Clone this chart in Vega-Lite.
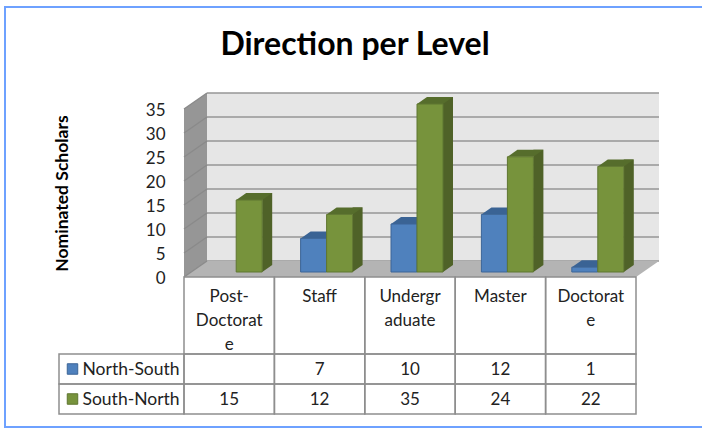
{
"$schema":"https://vega.github.io/schema/vega-lite/v6.json",
"width":700,"height":420,
"autosize":{"type":"none"},
"padding":{"left":5,"top":7,"right":0,"bottom":2},
"background":"white",
"config":{"view":{"stroke":"#6ea1ff","strokeWidth":2},"font":"Lato"},
"title":{"text":"Direction per Level","font":"Lato","fontSize":32,"fontWeight":"bold","color":"#000000","anchor":"middle","offset":-55},
"datasets":{
"scholars":[
{"level":"Post-Doctorate","series":"North-South","value":null},
{"level":"Staff","series":"North-South","value":7},
{"level":"Undergraduate","series":"North-South","value":10},
{"level":"Master","series":"North-South","value":12},
{"level":"Doctorate","series":"North-South","value":1},
{"level":"Post-Doctorate","series":"South-North","value":15},
{"level":"Staff","series":"South-North","value":12},
{"level":"Undergraduate","series":"South-North","value":35},
{"level":"Master","series":"South-North","value":24},
{"level":"Doctorate","series":"South-North","value":22}],
"levels":[
{"level":"Post-Doctorate","label":"Post-\nDoctorat\ne","row":"head"},
{"level":"Staff","label":"Staff","row":"head"},
{"level":"Undergraduate","label":"Undergr\naduate","row":"head"},
{"level":"Master","label":"Master","row":"head"},
{"level":"Doctorate","label":"Doctorat\ne","row":"head"}],
"ticks":[{"tick":0},{"tick":5},{"tick":10},{"tick":15},{"tick":20},{"tick":25},{"tick":30},{"tick":35}],
"series":[{"series":"North-South","col":"key"},{"series":"South-North","col":"key"}]
},
"layer":[
{"data":{"name":"ticks"},
"encoding":{"y":{"field":"tick","type":"quantitative","scale":{"domain":[0,35],"range":[270,102],"nice":false},
"axis":{"offset":-174,"values":[0,5,10,15,20,25,30,35],"domain":false,"ticks":false,"grid":false,"labelPadding":14,"labelOffset":1,"labelFont":"Lato","labelFontSize":17,"labelColor":"#222222","title":"Nominated Scholars","titleFont":"Lato","titleFontSize":17.5,"titleFontWeight":"bold","titleColor":"#000000","titlePadding":74}}},
"layer":[
{"transform":[{"filter":"datum.tick==0"}],"mark":{"type":"rect","fill":"#e6e6e6","xOffset":23,"x2Offset":23,"yOffset":-16,"y2Offset":-16},
 "encoding":{"x":{"datum":0,"type":"quantitative","scale":{"domain":[0,1],"range":[179,631]},"axis":null},"x2":{"datum":1},"y":{"datum":35,"type":"quantitative"},"y2":{"datum":0}}},
{"mark":{"type":"rule","stroke":"#969696","strokeWidth":1.5,"xOffset":23,"x2Offset":23,"yOffset":-16,"y2Offset":-16},
 "encoding":{"x":{"datum":0,"type":"quantitative"},"x2":{"datum":1}}},
{"transform":[{"filter":"datum.tick==0"}],"mark":{"type":"point","shape":"M0 0L.23 -.16L.23 -1.84L0 -1.68Z","size":40000,"filled":true,"fill":"#969696","opacity":1,"stroke":null},
 "encoding":{"x":{"datum":0,"type":"quantitative"}}},
{"transform":[{"filter":"datum.tick==0"}],"mark":{"type":"point","shape":"M0 0L.23 -.16L4.75 -.16L4.52 0Z","size":40000,"filled":true,"fill":"#b4b4b4","opacity":1,"stroke":null},
 "encoding":{"x":{"datum":0,"type":"quantitative"}}},
{"mark":{"type":"point","shape":"M0 0L.23 -.16","size":40000,"filled":false,"stroke":"#8a8a8a","strokeWidth":1.5,"opacity":1},
 "encoding":{"x":{"datum":0,"type":"quantitative"}}}
]},
{"data":{"name":"scholars"},
"transform":[{"filter":"datum.value!=null"}],
"encoding":{
 "x":{"field":"level","type":"nominal","sort":["Post-Doctorate","Staff","Undergraduate","Master","Doctorate"],"scale":{"range":[179,631],"paddingInner":0,"paddingOuter":0},"axis":null},
 "y":{"field":"value","type":"quantitative","stack":null,"scale":{"domain":[0,35],"range":[270,102],"nice":false},"axis":null}},
"layer":[
{"transform":[{"filter":"datum.series=='North-South'"}],"mark":{"type":"point","shape":"M1 0L1.77 -.54L1 -.54Z","size":676,"filled":true,"fill":"#2f4f76","opacity":1,"stroke":null,"xOffset":-6,"yOffset":-5},"encoding":{"y":{"datum":0,"type":"quantitative"}}},
{"transform":[{"filter":"datum.series=='North-South'"}],"mark":{"type":"bar","width":10,"fill":"#2f4f76","xOffset":12,"yOffset":-12,"y2Offset":-12},"encoding":{"y2":{"datum":0}}},
{"transform":[{"filter":"datum.series=='North-South'"}],"mark":{"type":"point","shape":"M-1 0L1 0L1.77 -.54L-.23 -.54Z","size":676,"filled":true,"fill":"#3a6394","opacity":1,"stroke":null,"xOffset":-6,"yOffset":-5}},
{"transform":[{"filter":"datum.series=='North-South'"}],"mark":{"type":"bar","width":26,"fill":"#4f81bd","stroke":"#3c6597","strokeWidth":1,"xOffset":-6,"yOffset":-5,"y2Offset":-5},"encoding":{"y2":{"datum":0}}},
{"transform":[{"filter":"datum.series=='South-North'"}],"mark":{"type":"point","shape":"M1 0L1.77 -.54L1 -.54Z","size":676,"filled":true,"fill":"#4f6228","opacity":1,"stroke":null,"xOffset":20,"yOffset":-5},"encoding":{"y":{"datum":0,"type":"quantitative"}}},
{"transform":[{"filter":"datum.series=='South-North'"}],"mark":{"type":"bar","width":10,"fill":"#4f6228","xOffset":38,"yOffset":-12,"y2Offset":-12},"encoding":{"y2":{"datum":0}}},
{"transform":[{"filter":"datum.series=='South-North'"}],"mark":{"type":"point","shape":"M-1 0L1 0L1.77 -.54L-.23 -.54Z","size":676,"filled":true,"fill":"#566d2c","opacity":1,"stroke":null,"xOffset":20,"yOffset":-5}},
{"transform":[{"filter":"datum.series=='South-North'"}],"mark":{"type":"bar","width":26,"fill":"#77933c","stroke":"#5f7630","strokeWidth":1,"xOffset":20,"yOffset":-5,"y2Offset":-5},"encoding":{"y2":{"datum":0}}}
]},
{"data":{"name":"levels"},
"encoding":{
 "x":{"field":"level","type":"nominal","sort":["Post-Doctorate","Staff","Undergraduate","Master","Doctorate"],"scale":{"range":[179,631],"paddingInner":0,"paddingOuter":0},"axis":null},
 "y":{"field":"row","type":"nominal","scale":{"range":[270,347],"paddingInner":0,"paddingOuter":0},"axis":null}},
"layer":[
{"mark":{"type":"rect","fill":null,"stroke":"#8e8e8e","strokeWidth":1.5}},
{"mark":{"type":"text","baseline":"top","lineBreak":"\n","lineHeight":24,"font":"Lato","fontSize":17,"color":"#222222","dy":12},
 "encoding":{"y":{"field":"row","type":"nominal","bandPosition":0},"text":{"field":"label"}}}
]},
{"data":{"name":"scholars"},
"encoding":{
 "x":{"field":"level","type":"nominal","sort":["Post-Doctorate","Staff","Undergraduate","Master","Doctorate"],"scale":{"range":[179,631],"paddingInner":0,"paddingOuter":0},"axis":null},
 "y":{"field":"series","type":"nominal","scale":{"range":[347,407],"paddingInner":0,"paddingOuter":0},"axis":null}},
"layer":[
{"mark":{"type":"rect","fill":null,"stroke":"#8e8e8e","strokeWidth":1.5}},
{"transform":[{"filter":"datum.value!=null"}],"mark":{"type":"text","font":"Lato","fontSize":17,"color":"#222222","dy":1},"encoding":{"text":{"field":"value","type":"quantitative"}}}
]},
{"data":{"name":"series"},
"encoding":{
 "x":{"field":"col","type":"nominal","scale":{"range":[54,179],"paddingInner":0,"paddingOuter":0},"axis":null},
 "y":{"field":"series","type":"nominal","scale":{"range":[347,407],"paddingInner":0,"paddingOuter":0},"axis":null}},
"layer":[
{"mark":{"type":"rect","fill":null,"stroke":"#8e8e8e","strokeWidth":1.5}},
{"mark":{"type":"point","shape":"square","size":110,"filled":true,"opacity":1,"strokeWidth":1,"xOffset":-49},
 "encoding":{"color":{"field":"series","type":"nominal","scale":{"range":["#4f81bd","#77933c"]},"legend":null},"stroke":{"field":"series","type":"nominal","scale":{"range":["#3c6597","#5f7630"]},"legend":null}}},
{"mark":{"type":"text","align":"left","font":"Lato","fontSize":17.5,"color":"#222222","dx":-39,"dy":1},"encoding":{"text":{"field":"series"}}}
]}
],
"resolve":{"scale":{"x":"independent","y":"independent"},"axis":{"x":"independent","y":"independent"}}
}
